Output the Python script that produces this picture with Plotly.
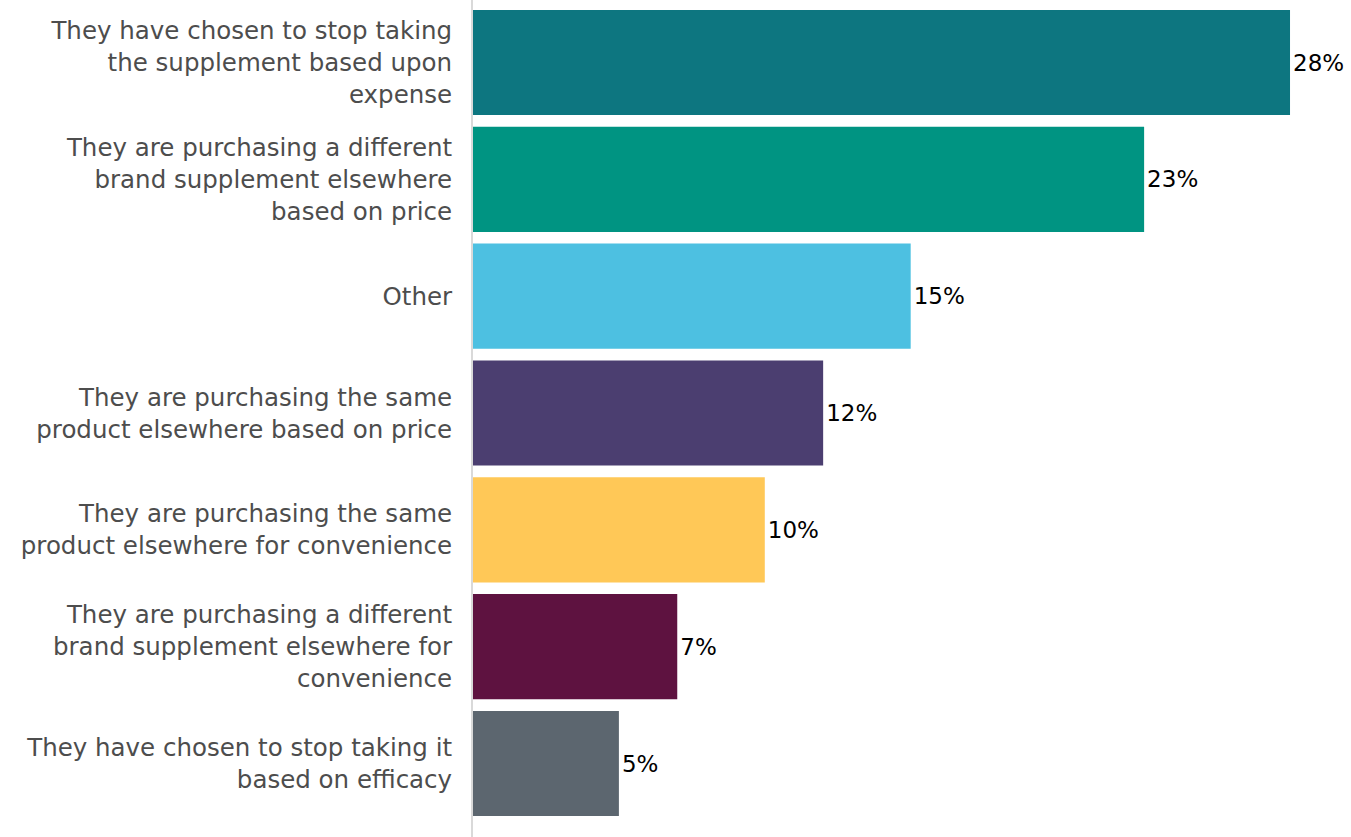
import plotly.graph_objects as go

categories = [
    "They have chosen to stop taking<br>the supplement based upon<br>expense",
    "They are purchasing a different<br>brand supplement elsewhere<br>based on price",
    "Other",
    "They are purchasing the same<br>product elsewhere based on price",
    "They are purchasing the same<br>product elsewhere for convenience",
    "They are purchasing a different<br>brand supplement elsewhere for<br>convenience",
    "They have chosen to stop taking it<br>based on efficacy",
]
values = [28, 23, 15, 12, 10, 7, 5]
value_labels = ["28%", "23%", "15%", "12%", "10%", "7%", "5%"]
colors = ["#0d7680", "#009482", "#4dc0e1", "#4b3e70", "#ffc857", "#5e1240", "#5c666f"]

FONT = "DejaVu Sans"

fig = go.Figure(
    go.Bar(
        x=values,
        y=categories,
        orientation="h",
        marker=dict(color=colors, line=dict(width=0)),
        text=value_labels,
        textposition="outside",
        constraintext="none",
        textfont=dict(family=FONT, size=23, color="#000000"),
        cliponaxis=False,
        hoverinfo="skip",
    )
)

fig.update_layout(
    width=1351,
    height=837,
    margin=dict(l=473, r=0, t=0, b=0, autoexpand=False),
    paper_bgcolor="white",
    plot_bgcolor="white",
    bargap=0.1,
    showlegend=False,
    font=dict(family=FONT),
)

fig.update_xaxes(visible=False, range=[0, 30.09], fixedrange=True)
fig.update_yaxes(
    type="category",
    range=[6.629, -0.535],
    showline=True,
    linecolor="#d9d9d9",
    linewidth=2,
    showgrid=False,
    zeroline=False,
    ticks="",
    ticklabelstandoff=14,
    tickfont=dict(family=FONT, size=24.5, color="#4d4d4d"),
    automargin=False,
    fixedrange=True,
)

fig.write_html(
    "out.html",
    config={"displayModeBar": False},
    post_script="document.body.style.margin='0';",
)
